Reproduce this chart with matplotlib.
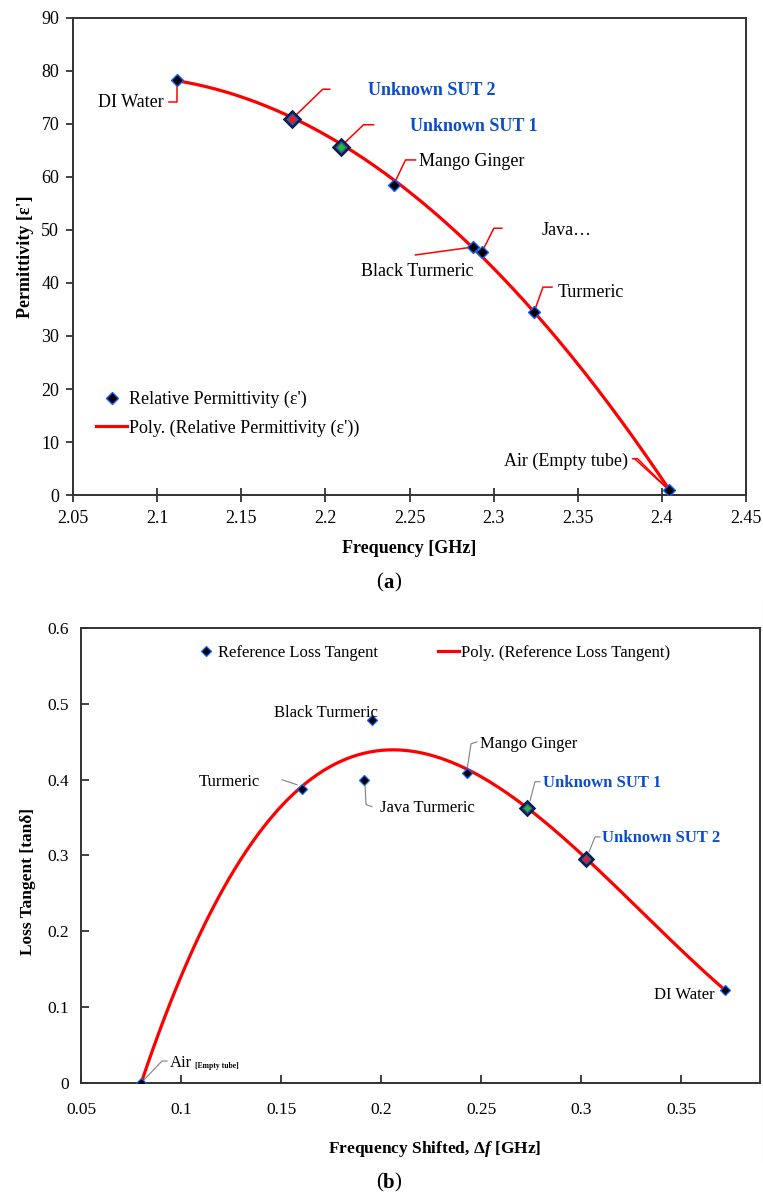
#!/usr/bin/env python3

import matplotlib
matplotlib.use('Agg')
import matplotlib.pyplot as plt
from matplotlib.lines import Line2D
from matplotlib.transforms import IdentityTransform
from matplotlib.ticker import MultipleLocator, FormatStrFormatter
import numpy as np

plt.rcParams['font.family'] = 'Liberation Serif'
plt.rcParams['mathtext.fontset'] = 'custom'
plt.rcParams['mathtext.rm'] = 'Liberation Serif:bold'
plt.rcParams['mathtext.it'] = 'Liberation Serif:italic:bold'

# (a) relative permittivity vs. resonant frequency
perm_labels = ['DI Water', 'Unknown SUT 2', 'Unknown SUT 1', 'Mango Ginger',
               'Black Turmeric', 'Java…', 'Turmeric', 'Air (Empty tube)']
perm_freq = [2.112, 2.180, 2.209, 2.2405, 2.288, 2.293, 2.324, 2.404]
perm_eps = [78.3, 70.9, 65.7, 58.5, 46.8, 45.8, 34.5, 1.0]

# (b) loss tangent vs. frequency shift
loss_labels = ['Air', 'Turmeric', 'Java Turmeric', 'Black Turmeric',
               'Mango Ginger', 'Unknown SUT 1', 'Unknown SUT 2', 'DI Water']
loss_shift = [0.080, 0.1605, 0.1915, 0.1955, 0.243, 0.273, 0.3025, 0.372]
loss_tan = [0.0, 0.388, 0.400, 0.479, 0.409, 0.363, 0.2955, 0.1227]

unknown_fill = {'Unknown SUT 1': '#22c022', 'Unknown SUT 2': '#ff1414'}

BLUE_TXT = '#0a4ccc'
SPINE = '#333333'

# label placement: offset (px) from point, alignment, leader vertices (px)
perm_layout = {
    'DI Water': (-14, -23, 'right', [[(0, 0), (0, -22), (-8, -22)]]),
    'Unknown SUT 2': (76, 29, 'left', [[(0, 0), (31, 30), (38, 30)]]),
    'Unknown SUT 1': (69, 20, 'left', [[(0, 0), (23, 22), (33, 22)]]),
    'Mango Ginger': (25, 23, 'left', [[(0, 0), (12, 25), (22, 25)]]),
    'Black Turmeric': (0, -25, 'right', [[(0, 0), (-58, -8)]]),
    'Java…': (60, 22, 'left', [[(0, 0), (12, 24), (20, 24)]]),
    'Turmeric': (24, 20, 'left', [[(0, 0), (9, 25), (18, 25)]]),
    'Air (Empty tube)': (-41, 28, 'right', [[(0, 0), (-31, 31), (-36, 31)],
                                            [(0, 0), (-34, 31)]]),
}
loss_layout = {
    'Air': (29, 20, 'left', [[(0, 0), (21, 22), (26, 22)]]),
    'Turmeric': (-42, 7, 'right', [[(-5, 4), (-20, 9)]]),
    'Java Turmeric': (16, -28, 'left', [[(1, -5), (2, -25), (8, -27)]]),
    'Black Turmeric': (6, 7, 'right', []),
    'Mango Ginger': (13, 29, 'left', [[(0, 3), (4, 29), (10, 31)]]),
    'Unknown SUT 1': (16, 25, 'left', [[(3, 7), (8, 26), (13, 26)]]),
    'Unknown SUT 2': (16, 21, 'left', [[(3, 7), (9, 22), (14, 22)]]),
    'DI Water': (-10, -5, 'right', []),
}


def leader(ax, x, y, verts, color, lw):
    x0, y0 = ax.transData.transform((x, y))
    xs = [x0 + dx for dx, dy in verts]
    ys = [y0 + dy for dx, dy in verts]
    ax.add_line(Line2D(xs, ys, transform=IdentityTransform(), color=color,
                       lw=lw, clip_on=False, zorder=4))


def draw_points(ax, names, xs, ys, ms, mew, big_ms):
    for name, x, y in zip(names, xs, ys):
        if name in unknown_fill:
            ax.plot(x, y, 'D', ms=big_ms, mfc='#2f5aa8', mec='#0d1d4d',
                    mew=1.8, zorder=6)
            ax.plot(x, y, 'D', ms=big_ms * 0.45, mfc=unknown_fill[name],
                    mec='none', zorder=7)
        else:
            ax.plot(x, y, 'D', ms=ms, mfc='black', mec='#1060ff', mew=mew,
                    zorder=6)


def label_points(ax, names, xs, ys, layout, size, leader_color, leader_lw):
    texts = {}
    for name, x, y in zip(names, xs, ys):
        dx, dy, ha, legs = layout[name]
        unknown = name in unknown_fill
        texts[name] = ax.annotate(name, xy=(x, y), xytext=(dx, dy),
                                  textcoords='offset pixels', ha=ha, va='center',
                                  fontsize=size,
                                  fontweight='bold' if unknown else 'normal',
                                  color=BLUE_TXT if unknown else 'black',
                                  zorder=8)
        for verts in legs:
            leader(ax, x, y, verts, leader_color, leader_lw)
    return texts


def style_frame(ax):
    for sp in ax.spines.values():
        sp.set_color(SPINE)
        sp.set_linewidth(1.4)


def panel_tag(fig, x, y, letter):
    # "(a)" with only the letter in bold
    fig.text(x, y, '(', fontsize=15, ha='right', va='center')
    fig.text(x, y, letter, fontsize=15, fontweight='bold', ha='left', va='center')
    fig.text(x + 11 / 763, y, ')', fontsize=15, ha='left', va='center')


def main():
    fig = plt.figure(figsize=(7.63, 11.98), dpi=100)

    # ---------------- (a) ----------------
    ax = fig.add_axes([0.0957, 0.5868, 0.8820, 0.3982])
    ax.set_xlim(2.05, 2.45)
    ax.set_ylim(0, 90)

    ref = [i for i, n in enumerate(perm_labels) if n not in unknown_fill]
    coef = np.polyfit([perm_freq[i] for i in ref], [perm_eps[i] for i in ref], 2)
    fx = np.linspace(min(perm_freq), max(perm_freq), 200)
    ax.plot(fx, np.polyval(coef, fx), color='#ff0000', lw=2.3, zorder=5)

    draw_points(ax, perm_labels, perm_freq, perm_eps, 6.0, 1.0, 8.0)

    ax.xaxis.set_major_locator(MultipleLocator(0.05))
    ax.yaxis.set_major_locator(MultipleLocator(10))
    ax.xaxis.set_major_formatter(FormatStrFormatter('%g'))
    ax.tick_params(axis='x', direction='inout', length=10, width=1.3,
                   colors=SPINE, labelcolor='black', labelsize=13, pad=6)
    ax.tick_params(axis='y', direction='out', length=5, width=1.3,
                   colors=SPINE, labelcolor='black', labelsize=13, pad=5)
    style_frame(ax)

    ax.set_xlabel('Frequency [GHz]', fontsize=13, fontweight='bold')
    ax.set_ylabel("Permittivity [ε']", fontsize=13, fontweight='bold')
    ax.xaxis.label.set_va('center')
    ax.yaxis.label.set_va('center')
    ax.xaxis.set_label_coords(0.50, -0.113)
    ax.yaxis.set_label_coords(-0.070, 0.50)

    h1 = Line2D([], [], marker='D', ls='none', ms=6.0, mfc='black', mec='#1060ff', mew=1.0)
    h2 = Line2D([], [], color='#ff0000', lw=2.3)
    ax.legend([h1, h2], ["Relative Permittivity (ε')", "Poly. (Relative Permittivity (ε'))"],
              loc='upper left', bbox_to_anchor=(0.034, 0.218), frameon=False,
              fontsize=13, handlelength=1.75, handletextpad=0.1,
              borderpad=0, borderaxespad=0, labelspacing=0.62)

    label_points(ax, perm_labels, perm_freq, perm_eps, perm_layout, 13,
                 '#ff0000', 1.1)

    # ---------------- (b) ----------------
    bx = fig.add_axes([0.1062, 0.0960, 0.8899, 0.3798])
    bx.set_xlim(0.05, 0.3895)
    bx.set_ylim(0, 0.6)

    ref = [i for i, n in enumerate(loss_labels) if n not in unknown_fill]
    coef = np.polyfit([loss_shift[i] for i in ref], [loss_tan[i] for i in ref], 3)
    fx = np.linspace(min(loss_shift), max(loss_shift), 200)
    bx.plot(fx, np.polyval(coef, fx), color='#ff0000', lw=2.3, zorder=5)

    draw_points(bx, loss_labels, loss_shift, loss_tan, 4.6, 0.9, 7.6)

    bx.xaxis.set_major_locator(MultipleLocator(0.05))
    bx.yaxis.set_major_locator(MultipleLocator(0.1))
    bx.xaxis.set_major_formatter(FormatStrFormatter('%g'))
    bx.yaxis.set_major_formatter(FormatStrFormatter('%g'))
    bx.tick_params(axis='both', direction='in', length=6, width=1.3,
                   colors=SPINE, labelcolor='black', labelsize=12.5)
    bx.tick_params(axis='x', pad=14)
    bx.tick_params(axis='y', pad=9)
    style_frame(bx)

    bx.set_xlabel(r'Frequency Shifted, Δ$\mathit{f}$ [GHz]', fontsize=12.5,
                  fontweight='bold')
    bx.set_ylabel('Loss Tangent [tanδ]', fontsize=12.5, fontweight='bold')
    bx.xaxis.label.set_va('center')
    bx.yaxis.label.set_va('center')
    bx.xaxis.set_label_coords(0.521, -0.145)
    bx.yaxis.set_label_coords(-0.078, 0.442)

    h1 = Line2D([], [], marker='D', ls='none', ms=4.6, mfc='black', mec='#1060ff', mew=0.9)
    bx.legend([h1, h2], ['Reference Loss Tangent', 'Poly. (Reference Loss Tangent)'],
              loc='upper left', bbox_to_anchor=(0.169, 0.962), frameon=False,
              ncol=2, fontsize=12, handlelength=1.25, handletextpad=0.1,
              columnspacing=3.6, borderpad=0, borderaxespad=0)

    texts = label_points(bx, loss_labels, loss_shift, loss_tan, loss_layout, 12,
                         '#808080', 0.8)
    bx.annotate('[Empty tube]', xy=(1, 0), xycoords=texts['Air'], xytext=(2, 1),
                textcoords='offset points', ha='left', va='bottom', fontsize=5.5,
                fontweight='bold', annotation_clip=False)

    panel_tag(fig, 383 / 763, 1 - 583 / 1198, 'a')
    panel_tag(fig, 383 / 763, 1 - 1183 / 1198, 'b')

    # faint edge line on the right side of the lower panel
    fig.add_artist(Line2D([0.9995, 0.9995], [1 - 593 / 1198, 1 - 1160 / 1198],
                          transform=fig.transFigure, color='#cfcfcf', lw=0.8))

    fig.savefig('out.png', dpi=100)
    return 0


if __name__ == '__main__':
    main()
